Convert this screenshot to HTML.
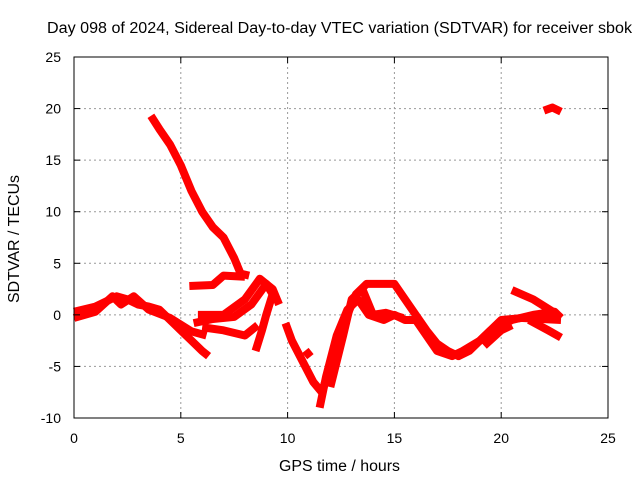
<!DOCTYPE html>
<html><head><meta charset="utf-8"><style>
body{margin:0;background:#fff}
svg text{font-family:"Liberation Sans",sans-serif;font-size:14px;fill:#000}
</style></head><body>
<svg id="c" width="640" height="480">
<text x="47" y="33" textLength="585" lengthAdjust="spacingAndGlyphs" style="font-size:15.5px">Day 098 of 2024, Sidereal Day-to-day VTEC variation (SDTVAR) for receiver sbok</text>
<text x="279" y="471" textLength="121" lengthAdjust="spacingAndGlyphs" style="font-size:15.5px">GPS time / hours</text>
<text transform="translate(19,303) rotate(-90)" textLength="128" lengthAdjust="spacingAndGlyphs" style="font-size:15.5px">SDTVAR / TECUs</text>
<g id="grid"></g><g id="marks"></g><g id="axes"></g>
</svg>
<script>
const xTicks=[0,5,10,15,20,25];
const yTicks=[-10,-5,0,5,10,15,20,25];
const trackA=[[3.6,19.3],[4.0,18],[4.5,16.5],[5.0,14.5],[5.5,12],[6.0,10],[6.5,8.5],[7.0,7.5],[7.5,5.5],[7.8,4],[8.2,3.8]];
const trackB=[[5.4,2.8],[6.5,2.9],[7.0,3.8],[8.0,3.7]];
const trackC=[[0,0.3],[1,0.8],[2,1.8],[2.5,1.5],[3,1],[3.5,0.8],[4,0.5],[4.5,-0.5],[5,-1.5],[5.5,-2.5],[6,-3.5],[6.3,-4]];
const trackC2=[[0,-0.3],[1,0.3],[1.8,1.8],[2.2,1.0],[2.8,1.8],[3.5,0.5],[4.5,-0.3],[5.5,-1.6],[6.2,-2]];
const trackD=[[5.6,-0.8],[6.5,-0.4],[7.5,-0.2],[8.3,1],[9.0,3],[9.3,2],[9.0,0],[8.8,-1.5],[8.5,-3.5]];
const trackD2=[[5.8,0],[7,0],[8,1.5],[8.7,3.5],[9.3,2.5],[9.6,1]];
const trackD3=[[6.0,-1.2],[7,-1.5],[8,-2],[8.6,-1]];
const trackE=[[9.9,-0.8],[10.2,-2.5],[10.7,-4.5],[11.2,-6.5],[11.6,-7.5],[12.0,-5],[12.4,-2],[12.8,0],[13.2,2],[13.7,3],[14.5,3],[15,3],[15.5,1.5],[16,0],[16.5,-1.5],[17,-2.8],[17.5,-3.5],[18,-4],[18.5,-3.5],[19,-2.5],[19.5,-1.5],[20,-1],[20.5,-0.5],[21.5,0],[22.5,0.3],[22.8,-0.3]];
const trackE2=[[11.5,-9],[11.8,-6],[12.3,-2],[12.8,0.5],[13.3,1.5],[13.8,0],[14.5,-0.5],[15,0],[15.5,-0.5],[16,-0.5],[16.5,-2],[17,-3.5],[17.7,-4],[18.2,-3.5],[19,-2.5],[20,-0.5],[21,-0.3],[22.8,-0.5]];
const trackE3=[[12.0,-7],[12.6,-2],[13,1.5],[13.5,2.5],[14,0],[14.6,0.2],[15.4,-0.3]];
const trackE4=[[10.8,-4],[11.1,-3.5]];
const trackF=[[20.5,2.4],[21.5,1.5],[22.5,0.2],[22.8,-0.3]];
const trackF2=[[21.3,-0.5],[22.2,-1.5],[22.8,-2.2]];
const trackG=[[22.0,19.8],[22.4,20.1],[22.8,19.7]];
const trackH=[[19.2,-3],[20,-1.5],[20.5,-1]];
const tracks=[trackA,trackB,trackC,trackC2,trackD,trackD2,trackD3,trackE,trackE2,trackE3,trackE4,trackF,trackF2,trackG,trackH];
const X0=74,X1=608,Y0=418,Y1=57;
const sx=v=>X0+(v-0)/25*(X1-X0);
const sy=v=>Y0-(v+10)/35*(Y0-Y1);
const NS='http://www.w3.org/2000/svg';
const g=document.getElementById('grid'),m=document.getElementById('marks'),a=document.getElementById('axes');
function mk(tag,attrs,parent){const e=document.createElementNS(NS,tag);for(const k in attrs)e.setAttribute(k,attrs[k]);parent.appendChild(e);return e;}
xTicks.forEach(t=>{
  if(t>0&&t<25){const l=mk('line',{x1:sx(t),x2:sx(t),y1:Y1,y2:Y0,stroke:'#999','stroke-dasharray':'2,3'},g);
  
  }
  const tx=mk('text',{x:sx(t),y:Y0+25,'text-anchor':'middle'},a);tx.textContent=t;
  
  
  mk('line',{x1:sx(t),x2:sx(t),y1:Y0,y2:Y0-6,stroke:'#000'},a);
  mk('line',{x1:sx(t),x2:sx(t),y1:Y1,y2:Y1+6,stroke:'#000'},a);
});
yTicks.forEach(t=>{
  if(t>-10&&t<25){const l=mk('line',{x1:X0,x2:X1,y1:sy(t),y2:sy(t),stroke:'#999','stroke-dasharray':'2,3'},g);
  
  }
  const tx=mk('text',{x:X0-13,y:sy(t)+5,'text-anchor':'end'},a);tx.textContent=t;
  
  
  mk('line',{x1:X0,x2:X0+6,y1:sy(t),y2:sy(t),stroke:'#000'},a);
  mk('line',{x1:X1,x2:X1-6,y1:sy(t),y2:sy(t),stroke:'#000'},a);
});
const fr=mk('rect',{x:X0,y:Y1,width:X1-X0,height:Y0-Y1,fill:'none',stroke:'#000'},a);


tracks.forEach(tr=>{
  const p=mk('polyline',{points:tr.map(d=>sx(d[0])+','+sy(d[1])).join(' '),fill:'none',stroke:'#f00','stroke-width':8,'stroke-linejoin':'round'},m);
  
  
});
</script>
</body></html>
